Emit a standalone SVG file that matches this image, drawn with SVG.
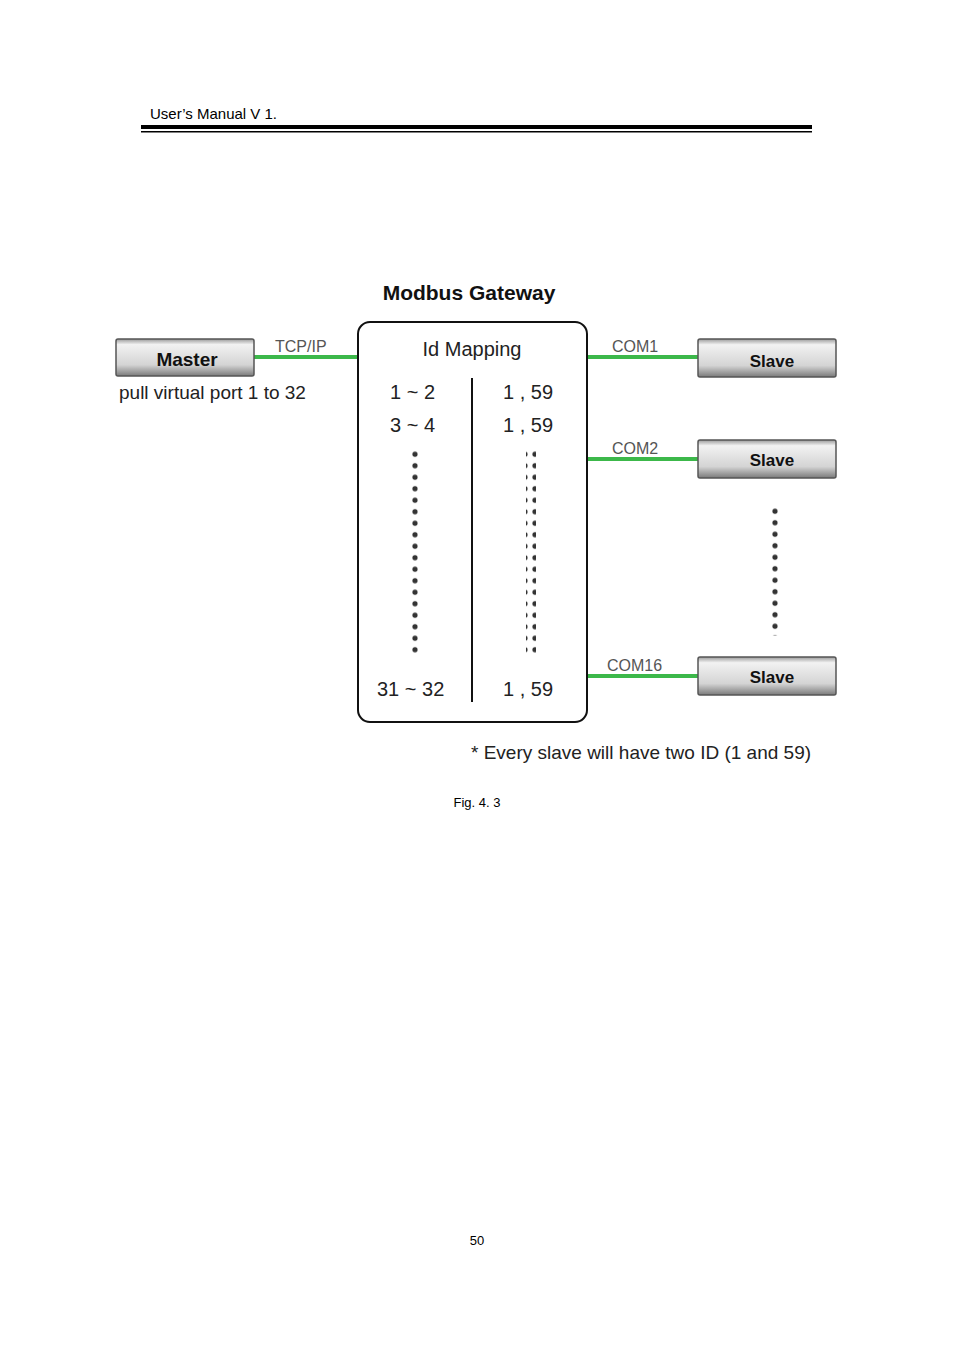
<svg xmlns="http://www.w3.org/2000/svg" width="954" height="1350" viewBox="0 0 954 1350">
<style>
text{font-family:"Liberation Sans",Arial,sans-serif;}
.btn{fill:url(#g);stroke:#555;stroke-width:1.5;}
.bl{font-weight:bold;fill:#111;text-anchor:middle;}
.gl{stroke:#3cb84a;stroke-width:4;}
.lab{font-size:16px;fill:#555;}
.m{font-size:20px;fill:#222;}
</style>
<defs>
<linearGradient id="g" x1="0" y1="0" x2="0" y2="1">
<stop offset="0" stop-color="#9a9a9a"/><stop offset="0.15" stop-color="#f2f2f2"/><stop offset="0.7" stop-color="#d4d4d4"/><stop offset="1" stop-color="#7a7a7a"/>
</linearGradient>
<pattern id="dl" x="0" y="0" width="10" height="11.5" patternUnits="userSpaceOnUse"><circle cx="5" cy="5.75" r="2.6" fill="#333"/></pattern>
</defs>
<text x="150" y="119" font-size="15">User’s Manual V 1.</text>
<rect x="141" y="125" width="671" height="4" fill="#000"/>
<rect x="141" y="131" width="671" height="1.5" fill="#000"/>
<text x="469" y="300" font-size="21" font-weight="bold" text-anchor="middle" fill="#111">Modbus Gateway</text>
<g id="connectors">
<line class="gl" x1="253" y1="357" x2="358" y2="357"/>
<line class="gl" x1="587" y1="357" x2="700" y2="357"/>
<line class="gl" x1="587" y1="459" x2="700" y2="459"/>
<line class="gl" x1="587" y1="676" x2="700" y2="676"/>
<text class="lab" x="275" y="352">TCP/IP</text>
<text class="lab" x="612" y="352">COM1</text>
<text class="lab" x="612" y="454">COM2</text>
<text class="lab" x="607" y="671">COM16</text>
</g>
<g id="master">
<rect class="btn" x="116" y="339" width="138" height="37" rx="2"/>
<text class="bl" x="187" y="366" font-size="19">Master</text>
<text x="119" y="399" font-size="19" fill="#222">pull virtual port 1 to 32</text>
</g>
<g id="gateway">
<rect x="358" y="322" width="229" height="400" rx="12" fill="#fff" stroke="#111" stroke-width="2"/>
<text x="472" y="356" font-size="20" fill="#222" text-anchor="middle">Id Mapping</text>
<line x1="472" y1="378" x2="472" y2="702" stroke="#111" stroke-width="2"/>
<text class="m" x="390" y="399">1 ~ 2</text>
<text class="m" x="390" y="432">3 ~ 4</text>
<text class="m" x="377" y="696">31 ~ 32</text>
<text class="m" x="503" y="399">1 , 59</text>
<text class="m" x="503" y="432">1 , 59</text>
<text class="m" x="503" y="696">1 , 59</text>
<rect x="412" y="450" width="10" height="207" fill="url(#dl)"/>
<rect x="526" y="450" width="10" height="207" fill="url(#dl)"/>
</g>
<g id="slave1"><rect class="btn" x="698" y="339" width="138" height="38" rx="2"/><text class="bl" x="772" y="367" font-size="17">Slave</text></g>
<g id="slave2"><rect class="btn" x="698" y="440" width="138" height="38" rx="2"/><text class="bl" x="772" y="466" font-size="17">Slave</text></g>
<g id="slave16"><rect class="btn" x="698" y="657" width="138" height="38" rx="2"/><text class="bl" x="772" y="683" font-size="17">Slave</text></g>
<rect x="769" y="504" width="10" height="132" fill="url(#dl)" transform="translate(0,-0.5)"/>
<text x="471" y="759" font-size="19" fill="#222">* Every slave will have two ID (1 and 59)</text>
<text x="477" y="807" font-size="13" text-anchor="middle" fill="#000">Fig. 4. 3</text>
<text x="477" y="1245" font-size="13" text-anchor="middle" fill="#000">50</text>
</svg>
